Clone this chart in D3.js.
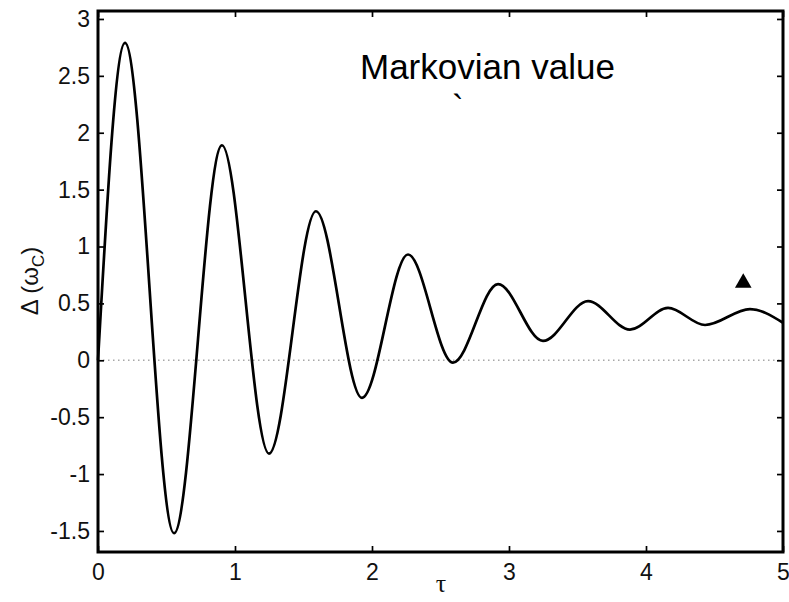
<!DOCTYPE html>
<html>
<head>
<meta charset="utf-8">
<script src="https://cdn.jsdelivr.net/npm/d3@7/dist/d3.min.js"></script>
<style>
  html, body { margin: 0; padding: 0; background: #ffffff; }
  svg { display: block; }
  .tick text { font-family: "Liberation Sans", Arial, Helvetica, sans-serif; font-size: 23px; fill: #111; }
</style>
</head>
<body>
<svg id="chart" width="789" height="602"></svg>
<script>
// Damped oscillation of Δ(ω_C) versus τ: turning points
const tau   = [0, 0.197, 0.555, 0.905, 1.248, 1.591, 1.927, 2.263, 2.591, 2.920, 3.248, 3.577, 3.883, 4.161, 4.431, 4.759, 5.0];
const delta = [0, 2.79, -1.52, 1.89, -0.82, 1.31, -0.33, 0.93, -0.02, 0.67, 0.17, 0.52, 0.27, 0.46, 0.31, 0.45, 0.33];

// Single marker point (triangle)
const markerTau = [4.71];
const markerDelta = [0.68];

const xTicks = [0, 1, 2, 3, 4, 5];
const yTicks = [-1.5, -1, -0.5, 0, 0.5, 1, 1.5, 2, 2.5, 3];

const annotation = "Markovian value";

const svg = d3.select("#chart");
const plotLeft = 98, plotRight = 783, plotTop = 11, plotBottom = 552;

const x = d3.scaleLinear().domain([0, 5]).range([plotLeft, plotRight]);
const y = d3.scaleLinear().domain([-1.685, 3.07]).range([plotBottom, plotTop]);

// zero reference line (dotted)
svg.append("line")
  .attr("x1", x(0)).attr("x2", x(5))
  .attr("y1", y(0)).attr("y2", y(0))
  .attr("stroke", "#a8a8a8").attr("stroke-width", 1.5)
  .attr("stroke-dasharray", "1.5,3.5");

// curve
const pts = tau.map((t, i) => [t, delta[i]]);
svg.append("path")
  .datum(pts)
  .attr("fill", "none")
  .attr("stroke", "#000")
  .attr("stroke-width", 2.7)
  .attr("stroke-linejoin", "round")
  .attr("d", d3.line().x(d => x(d[0])).y(d => y(d[1])).curve(d3.curveMonotoneX));

// axes with inward ticks on all four sides
const axisStyle = g => {
  g.select(".domain").remove();
  g.selectAll(".tick line").attr("stroke", "#000").attr("stroke-width", 1.7);
};

svg.append("g").attr("transform", `translate(0,${plotBottom})`)
  .call(d3.axisBottom(x).tickValues(xTicks).tickFormat(d3.format("d")).tickSize(-6).tickPadding(12))
  .call(axisStyle)
  .call(g => g.selectAll(".tick text").attr("dy", "0.71em"));

svg.append("g").attr("transform", `translate(0,${plotTop})`)
  .call(d3.axisTop(x).tickValues(xTicks).tickSize(-6).tickFormat(""))
  .call(axisStyle);

svg.append("g").attr("transform", `translate(${plotLeft},0)`)
  .call(d3.axisLeft(y).tickValues(yTicks).tickFormat(d => String(d)).tickSize(-6).tickPadding(8))
  .call(axisStyle);

svg.append("g").attr("transform", `translate(${plotRight},0)`)
  .call(d3.axisRight(y).tickValues(yTicks).tickSize(-6).tickFormat(""))
  .call(axisStyle);

// frame
svg.append("rect")
  .attr("x", plotLeft).attr("y", plotTop)
  .attr("width", plotRight - plotLeft).attr("height", plotBottom - plotTop)
  .attr("fill", "none").attr("stroke", "#000").attr("stroke-width", 3);

// axis titles
const ylab = svg.append("text")
  .attr("transform", "translate(38,281) rotate(-90)")
  .attr("text-anchor", "middle")
  .attr("font-family", "'Liberation Sans', Arial, sans-serif")
  .attr("font-size", 24)
  .attr("fill", "#111");
ylab.append("tspan").text("Δ (ω");
ylab.append("tspan").attr("font-size", 17).attr("dy", 6).text("C");
ylab.append("tspan").attr("dy", -6).text(")");

svg.append("text")
  .attr("x", 441).attr("y", 592)
  .attr("text-anchor", "middle")
  .attr("font-family", "'Liberation Serif', 'DejaVu Serif', serif")
  .attr("font-size", 26)
  .attr("fill", "#111")
  .text("τ");

// annotation
svg.append("text")
  .attr("x", 360).attr("y", 79)
  .attr("font-family", "'Liberation Sans', Arial, sans-serif")
  .attr("font-size", 35)
  .attr("fill", "#000")
  .text(annotation);

svg.append("text")
  .attr("x", 452).attr("y", 120)
  .attr("font-family", "'Liberation Sans', Arial, sans-serif")
  .attr("font-size", 35)
  .attr("fill", "#000")
  .text("`");

// marker
svg.selectAll("path.marker")
  .data(markerTau.map((t, i) => [t, markerDelta[i]]))
  .join("path")
  .attr("class", "marker")
  .attr("transform", d => `translate(${x(d[0])},${y(d[1])})`)
  .attr("d", d3.symbol(d3.symbolTriangle, 120))
  .attr("fill", "#000");
</script>
</body>
</html>
